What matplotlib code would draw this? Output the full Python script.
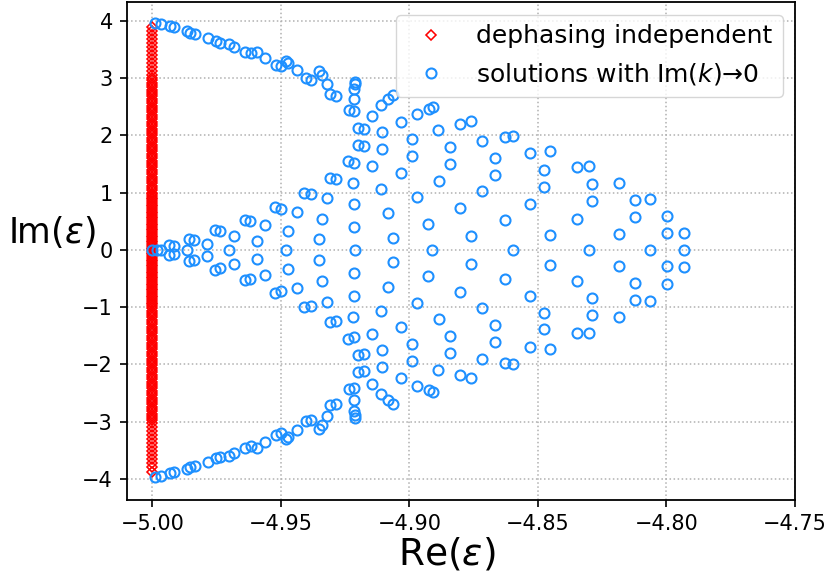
import matplotlib
matplotlib.use("Agg")
import matplotlib.pyplot as plt

# ---------------- data ----------------
# "dephasing independent" eigenvalues (Re = -5)
red_im = [3.90, 3.83, 3.76, 3.69, 3.62, 3.55, 3.48, 3.41, 3.34, 3.27, 3.20, 3.13, 3.06, 3.00,
          2.96, 2.92, 2.88, 2.84, 2.80, 2.76, 2.72, 2.68, 2.64, 2.60, 2.56, 2.52, 2.48, 2.44,
          2.40, 2.36, 2.32, 2.28, 2.24, 2.20, 2.16, 2.12, 2.08, 2.04, 2.00, 1.96, 1.92, 1.88,
          1.84, 1.80, 1.76, 1.72, 1.68, 1.64, 1.60, 1.56, 1.52, 1.48, 1.44, 1.40, 1.36, 1.32,
          1.28, 1.24, 1.20, 1.16, 1.12, 1.08, 1.04, 1.00, 0.97, 0.94, 0.91, 0.88, 0.85, 0.82,
          0.79, 0.76, 0.73, 0.70, 0.67, 0.64, 0.61, 0.58, 0.55, 0.52, 0.49, 0.46, 0.43, 0.40,
          0.37, 0.34, 0.31, 0.28, 0.25, 0.22, 0.19, 0.16, 0.13, 0.10, 0.07, 0.04, 0.01,
          -0.02, -0.05, -0.08, -0.11, -0.14, -0.17, -0.20, -0.23, -0.26, -0.29, -0.32, -0.35,
          -0.38, -0.41, -0.44, -0.47, -0.50, -0.53, -0.56, -0.59, -0.62, -0.65, -0.68, -0.71,
          -0.74, -0.77, -0.80, -0.83, -0.86, -0.89, -0.92, -0.95, -0.98, -1.02, -1.06, -1.10,
          -1.14, -1.18, -1.22, -1.26, -1.30, -1.34, -1.38, -1.42, -1.46, -1.50, -1.54, -1.58,
          -1.62, -1.66, -1.70, -1.74, -1.78, -1.82, -1.86, -1.90, -1.94, -1.98, -2.02, -2.06,
          -2.10, -2.14, -2.18, -2.22, -2.26, -2.30, -2.34, -2.38, -2.42, -2.46, -2.50, -2.54,
          -2.58, -2.62, -2.66, -2.70, -2.74, -2.78, -2.82, -2.86, -2.90, -2.94, -2.98, -3.03,
          -3.10, -3.17, -3.24, -3.31, -3.38, -3.45, -3.52, -3.59, -3.66, -3.73, -3.80, -3.88]
red_re = [-5.0] * len(red_im)

# "solutions with Im(k)->0" : upper half, real axis, lower half
blue_upper = [
    (-4.9990, 3.965), (-4.9968, 3.942), (-4.9932, 3.907), (-4.9916, 3.885), (-4.9867, 3.820),
    (-4.9852, 3.790), (-4.9835, 3.773), (-4.9785, 3.703), (-4.9753, 3.640), (-4.9738, 3.615),
    (-4.9701, 3.598), (-4.9683, 3.545), (-4.9638, 3.458), (-4.9618, 3.435), (-4.9593, 3.453),
    (-4.9563, 3.360), (-4.9521, 3.238), (-4.9499, 3.208), (-4.9481, 3.308), (-4.9472, 3.266),
    (-4.9437, 3.150), (-4.9404, 2.998), (-4.9385, 2.976), (-4.9352, 3.121), (-4.9342, 3.056),
    (-4.9320, 2.906), (-4.9310, 2.719), (-4.9284, 2.696), (-4.9237, 2.439), (-4.9215, 2.421),
    (-4.9213, 2.937), (-4.9213, 2.893), (-4.9215, 2.815), (-4.9217, 2.631),
    (-4.9200, 2.133), (-4.9177, 2.119), (-4.9144, 2.346), (-4.9112, 2.526), (-4.9084, 2.631),
    (-4.9066, 2.701), (-4.9106, 2.054), (-4.9200, 1.839), (-4.9177, 1.822), (-4.9106, 1.757),
    (-4.9034, 2.241), (-4.8971, 2.381), (-4.8925, 2.456), (-4.8908, 2.491), (-4.8889, 2.098),
    (-4.8804, 2.191), (-4.8759, 2.247), (-4.8992, 1.944), (-4.8843, 1.797), (-4.8716, 1.909),
    (-4.8630, 1.979), (-4.8597, 1.997), (-4.8992, 1.643), (-4.8843, 1.500), (-4.8668, 1.612),
    (-4.8530, 1.692), (-4.8455, 1.729), (-4.9238, 1.551), (-4.9216, 1.526), (-4.9145, 1.463),
    (-4.9034, 1.350), (-4.8668, 1.315), (-4.8478, 1.390), (-4.8348, 1.446), (-4.8302, 1.460),
    (-4.9310, 1.253), (-4.9287, 1.236), (-4.9219, 1.175), (-4.9112, 1.065), (-4.8886, 1.203),
    (-4.8716, 1.023), (-4.8478, 1.098), (-4.8291, 1.145), (-4.8186, 1.175), (-4.9409, 0.997),
    (-4.9385, 0.976), (-4.9322, 0.909), (-4.8971, 0.921), (-4.9217, 0.799), (-4.8804, 0.734),
    (-4.8530, 0.801), (-4.8291, 0.848), (-4.8124, 0.878), (-4.8063, 0.888), (-4.9522, 0.747),
    (-4.9499, 0.722), (-4.9439, 0.661), (-4.9342, 0.542), (-4.9083, 0.645), (-4.8928, 0.458),
    (-4.8627, 0.516), (-4.8348, 0.545), (-4.8124, 0.573), (-4.7998, 0.591), (-4.9640, 0.530),
    (-4.9620, 0.507), (-4.9563, 0.432), (-4.9472, 0.336), (-4.9216, 0.397), (-4.9755, 0.348),
    (-4.9738, 0.323), (-4.9682, 0.250), (-4.9352, 0.184), (-4.9066, 0.215), (-4.8759, 0.241),
    (-4.8455, 0.266), (-4.8186, 0.283), (-4.7998, 0.288), (-4.7930, 0.294), (-4.9857, 0.192),
    (-4.9839, 0.178), (-4.9786, 0.105), (-4.9595, 0.152), (-4.9935, 0.091), (-4.9918, 0.066),
]
blue_axis = [
    (-5.0003, 0.0), (-4.9984, 0.0), (-4.9968, 0.0), (-4.9864, 0.0), (-4.9701, 0.0),
    (-4.9482, 0.0), (-4.9213, 0.0), (-4.8911, 0.0), (-4.8597, 0.0), (-4.8302, 0.0),
    (-4.8063, 0.0), (-4.7930, 0.0),
]
blue_lower = [
    (-4.9990, -3.965), (-4.9968, -3.942), (-4.9932, -3.907), (-4.9916, -3.885), (-4.9867, -3.820),
    (-4.9852, -3.790), (-4.9835, -3.773), (-4.9785, -3.703), (-4.9753, -3.640), (-4.9738, -3.615),
    (-4.9701, -3.598), (-4.9683, -3.545), (-4.9638, -3.458), (-4.9618, -3.435), (-4.9593, -3.453),
    (-4.9563, -3.360), (-4.9521, -3.238), (-4.9499, -3.208), (-4.9481, -3.308), (-4.9472, -3.266),
    (-4.9437, -3.150), (-4.9404, -2.998), (-4.9385, -2.976), (-4.9352, -3.121), (-4.9342, -3.056),
    (-4.9320, -2.906), (-4.9310, -2.719), (-4.9284, -2.696), (-4.9237, -2.439), (-4.9215, -2.421),
    (-4.9213, -2.937), (-4.9213, -2.893), (-4.9215, -2.815), (-4.9217, -2.631),
    (-4.9200, -2.133), (-4.9177, -2.119), (-4.9144, -2.346), (-4.9112, -2.526), (-4.9084, -2.631),
    (-4.9066, -2.701), (-4.9106, -2.054), (-4.9200, -1.839), (-4.9177, -1.822), (-4.9106, -1.757),
    (-4.9034, -2.241), (-4.8971, -2.381), (-4.8925, -2.456), (-4.8908, -2.491), (-4.8889, -2.098),
    (-4.8804, -2.191), (-4.8759, -2.247), (-4.8992, -1.944), (-4.8843, -1.797), (-4.8716, -1.909),
    (-4.8630, -1.979), (-4.8597, -1.997), (-4.8992, -1.643), (-4.8843, -1.500), (-4.8668, -1.612),
    (-4.8530, -1.692), (-4.8455, -1.729), (-4.9238, -1.551), (-4.9216, -1.526), (-4.9145, -1.463),
    (-4.9034, -1.350), (-4.8668, -1.315), (-4.8478, -1.390), (-4.8348, -1.446), (-4.8302, -1.460),
    (-4.9310, -1.253), (-4.9287, -1.236), (-4.9219, -1.175), (-4.9112, -1.065), (-4.8886, -1.203),
    (-4.8716, -1.023), (-4.8478, -1.098), (-4.8291, -1.145), (-4.8186, -1.175), (-4.9409, -0.997),
    (-4.9385, -0.976), (-4.9322, -0.909), (-4.8971, -0.921), (-4.9217, -0.799), (-4.8804, -0.734),
    (-4.8530, -0.801), (-4.8291, -0.848), (-4.8124, -0.878), (-4.8063, -0.888), (-4.9522, -0.747),
    (-4.9499, -0.722), (-4.9439, -0.661), (-4.9342, -0.542), (-4.9083, -0.645), (-4.8928, -0.458),
    (-4.8627, -0.516), (-4.8348, -0.545), (-4.8124, -0.573), (-4.7998, -0.591), (-4.9640, -0.530),
    (-4.9620, -0.507), (-4.9563, -0.432), (-4.9472, -0.336), (-4.9216, -0.397), (-4.9755, -0.348),
    (-4.9738, -0.323), (-4.9682, -0.250), (-4.9352, -0.184), (-4.9066, -0.215), (-4.8759, -0.241),
    (-4.8455, -0.266), (-4.8186, -0.283), (-4.7998, -0.288), (-4.7930, -0.294), (-4.9857, -0.192),
    (-4.9839, -0.178), (-4.9786, -0.105), (-4.9595, -0.152), (-4.9935, -0.091), (-4.9918, -0.066),
]
blue_pts = blue_upper + blue_axis + blue_lower
blue_re = [p[0] for p in blue_pts]
blue_im = [p[1] for p in blue_pts]

x_ticks = [-5.00, -4.95, -4.90, -4.85, -4.80, -4.75]
y_ticks = [-4, -3, -2, -1, 0, 1, 2, 3, 4]

# ---------------- figure ----------------
fig = plt.figure(figsize=(8.26, 5.74), dpi=100)
ax = fig.add_axes([127 / 826, 1 - 500 / 574, 668 / 826, 498 / 574])

ax.plot(red_re, red_im, linestyle="none", marker="D", markersize=5.0,
        markerfacecolor="none", markeredgecolor="red", markeredgewidth=1.15,
        label="dephasing independent")
ax.plot(blue_re, blue_im, linestyle="none", marker="o", markersize=7.2,
        markerfacecolor="none", markeredgecolor="#1E90FF", markeredgewidth=1.5,
        label="solutions with Im($k$)\u21920")

ax.set_xlim(-5.0099, -4.75)
ax.set_ylim(-4.37, 4.33)
ax.set_xticks(x_ticks)
ax.set_yticks(y_ticks)
ax.grid(True, linestyle=":", color="#b0b0b0", linewidth=1.1)
ax.set_axisbelow(True)

for s in ax.spines.values():
    s.set_linewidth(1.3)
ax.tick_params(axis="both", which="major", labelsize=15, length=5.25, width=1.2, pad=5)

ax.set_xlabel("Re($\\epsilon$)", fontsize=27)
ax.xaxis.set_label_coords(0.479, -0.108)
ax.xaxis.label.set_va("center")
ax.set_ylabel("Im($\\epsilon$)", fontsize=25, rotation=0, ha="center", va="center")
ax.yaxis.set_label_coords(-0.112, 0.538)

ax.legend(loc="upper right", fontsize=18, framealpha=0.8, numpoints=1)

fig.savefig("out.png", dpi=100)
